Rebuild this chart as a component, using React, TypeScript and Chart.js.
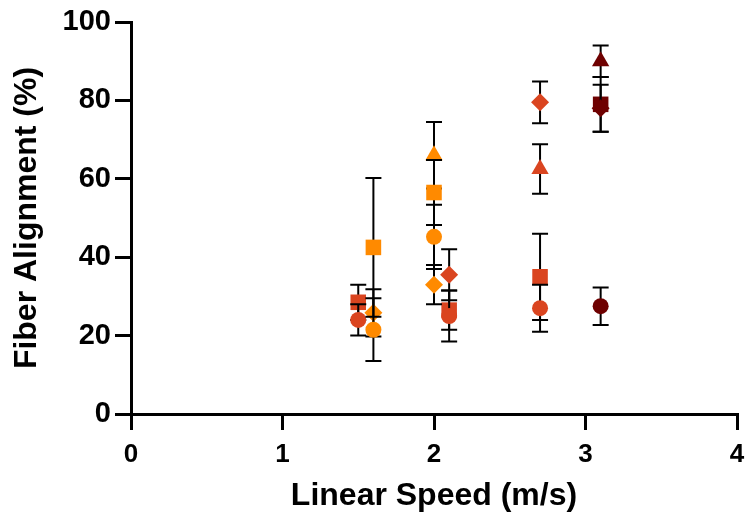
import React, { useEffect, useRef } from "react";
import { Chart, registerables } from "chart.js";

Chart.register(...registerables);

// ---- Data (mean ± SD) ----
// Orange group
const orangeCircleX = [1.6, 2.0];
const orangeCircleY = [21.5, 45.2];
const orangeCircleSD = [8, 8.2];
const orangeSquareX = [1.6, 2.0];
const orangeSquareY = [42.5, 56.5];
const orangeSquareSD = [17.7, 8.3];
const orangeTriangleX = [2.0];
const orangeTriangleY = [66];
const orangeTriangleSD = [8.5];
const orangeDiamondX = [1.6, 2.0];
const orangeDiamondY = [25.8, 33];
const orangeDiamondSD = [6, 5];

// Red-orange group
const redCircleX = [1.5, 2.1, 2.7];
const redCircleY = [24, 25, 27];
const redCircleSD = [4, 6.5, 6];
const redSquareX = [1.5, 2.1, 2.7];
const redSquareY = [28.5, 26.5, 35];
const redSquareSD = [4.5, 5, 11];
const redTriangleX = [2.7];
const redTriangleY = [62.5];
const redTriangleSD = [6.3];
const redDiamondX = [2.1, 2.7];
const redDiamondY = [35.5, 79.5];
const redDiamondSD = [6.5, 5.3];

// Dark red group
const darkCircleX = [3.1];
const darkCircleY = [27.5];
const darkCircleSD = [4.8];
const darkSquareX = [3.1];
const darkSquareY = [79];
const darkSquareSD = [7];
const darkTriangleX = [3.1];
const darkTriangleY = [90];
const darkTriangleSD = [4];
const darkDiamondX = [3.1];
const darkDiamondY = [78];
const darkDiamondSD = [6];

const xTicks = [0, 1, 2, 3, 4];
const yTicks = [0, 20, 40, 60, 80, 100];

const ORANGE = "#FF8A00";
const RED = "#DA4520";
const DARK = "#6E0000";

function makeSeries(
  label: string,
  xs: number[],
  ys: number[],
  sds: number[],
  color: string,
  style: string,
  radius: number
) {
  return {
    label,
    data: xs.map((x, i) => ({ x, y: ys[i] })),
    sd: sds,
    backgroundColor: color,
    borderColor: color,
    borderWidth: 0,
    pointStyle: style,
    pointRadius: radius,
    pointHoverRadius: radius,
    showLine: false,
  };
}

const errorBarPlugin = {
  id: "errorBars",
  beforeDatasetDraw(chart: any, args: any) {
    const ds = chart.data.datasets[args.index];
    const yScale = chart.scales.y;
    const ctx = chart.ctx;
    ctx.save();
    ctx.strokeStyle = "#000";
    ctx.lineWidth = 2;
    args.meta.data.forEach((pt: any, i: number) => {
      const v = ds.data[i];
      const sd = ds.sd[i];
      const top = yScale.getPixelForValue(v.y + sd);
      const bot = yScale.getPixelForValue(v.y - sd);
      const cx = pt.x;
      ctx.beginPath();
      ctx.moveTo(cx, top);
      ctx.lineTo(cx, bot);
      ctx.moveTo(cx - 8, top);
      ctx.lineTo(cx + 8, top);
      ctx.moveTo(cx - 8, bot);
      ctx.lineTo(cx + 8, bot);
      ctx.stroke();
    });
    ctx.restore();
  },
};

export default function App() {
  const ref = useRef<HTMLCanvasElement>(null);
  useEffect(() => {
    if (!ref.current) return;
    const font = "'Liberation Sans', Arial, Helvetica, sans-serif";
    const chart = new Chart(ref.current, {
      type: "scatter",
      data: {
        datasets: [
          makeSeries("Orange circle", orangeCircleX, orangeCircleY, orangeCircleSD, ORANGE, "circle", 8),
          makeSeries("Orange square", orangeSquareX, orangeSquareY, orangeSquareSD, ORANGE, "rect", 11),
          makeSeries("Orange triangle", orangeTriangleX, orangeTriangleY, orangeTriangleSD, ORANGE, "triangle", 10),
          makeSeries("Orange diamond", orangeDiamondX, orangeDiamondY, orangeDiamondSD, ORANGE, "rectRot", 9),
          makeSeries("Red circle", redCircleX, redCircleY, redCircleSD, RED, "circle", 8),
          makeSeries("Red square", redSquareX, redSquareY, redSquareSD, RED, "rect", 11),
          makeSeries("Red triangle", redTriangleX, redTriangleY, redTriangleSD, RED, "triangle", 10),
          makeSeries("Red diamond", redDiamondX, redDiamondY, redDiamondSD, RED, "rectRot", 9),
          makeSeries("Dark circle", darkCircleX, darkCircleY, darkCircleSD, DARK, "circle", 8),
          makeSeries("Dark diamond", darkDiamondX, darkDiamondY, darkDiamondSD, DARK, "rectRot", 9),
          makeSeries("Dark square", darkSquareX, darkSquareY, darkSquareSD, DARK, "rect", 11),
          makeSeries("Dark triangle", darkTriangleX, darkTriangleY, darkTriangleSD, DARK, "triangle", 10),
        ] as any,
      },
      options: {
        animation: false,
        responsive: true,
        maintainAspectRatio: false,
        layout: { padding: { top: 22, right: 11, left: 0, bottom: 0 } },
        plugins: { legend: { display: false }, tooltip: { enabled: false } },
        scales: {
          x: {
            type: "linear",
            min: 0,
            max: 4,
            afterBuildTicks: (s: any) => {
              s.ticks = xTicks.map((v) => ({ value: v }));
            },
            afterFit: (s: any) => {
              s.height = 103;
              s.paddingLeft = 0;
              s.paddingRight = 0;
            },
            grid: {
              drawOnChartArea: false,
              drawTicks: true,
              tickLength: 16,
              color: "#000",
              lineWidth: 3,
            },
            border: { color: "#000", width: 3 },
            ticks: {
              color: "#000",
              padding: 9,
              font: { family: font, size: 26, weight: "bold" },
            },
            title: {
              display: true,
              text: "Linear Speed (m/s)",
              color: "#000",
              font: { family: font, size: 32, weight: "bold" },
              padding: { top: 0, bottom: 2 },
            },
          },
          y: {
            type: "linear",
            min: 0,
            max: 100,
            afterBuildTicks: (s: any) => {
              s.ticks = yTicks.map((v) => ({ value: v }));
            },
            afterFit: (s: any) => {
              s.width = 131;
              s.paddingTop = 0;
              s.paddingBottom = 0;
            },
            grid: {
              drawOnChartArea: false,
              drawTicks: true,
              tickLength: 16,
              color: "#000",
              lineWidth: 3,
            },
            border: { color: "#000", width: 3 },
            ticks: {
              color: "#000",
              padding: 4,
              font: { family: font, size: 29, weight: "bold" },
            },
            title: {
              display: true,
              text: "Fiber Alignment (%)",
              color: "#000",
              font: { family: font, size: 32, weight: "bold" },
              padding: { top: 8, bottom: 0 },
            },
          },
        },
      } as any,
      plugins: [errorBarPlugin],
    });
    return () => chart.destroy();
  }, []);

  return (
    <div style={{ position: "absolute", left: 0, top: 0, width: 748, height: 517, background: "#fff" }}>
      <canvas ref={ref} />
    </div>
  );
}
